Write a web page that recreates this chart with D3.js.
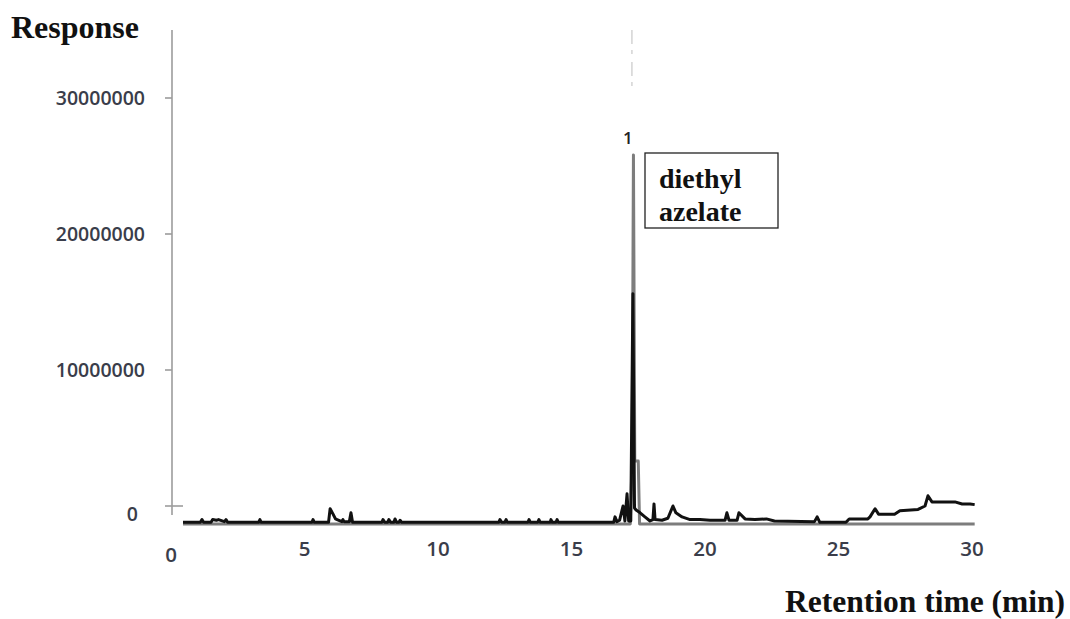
<!DOCTYPE html>
<html>
<head>
<meta charset="utf-8">
<script src="https://cdn.jsdelivr.net/npm/d3@7"></script>
<style>
  html, body { margin: 0; padding: 0; background: #fff; }
  svg { display: block; }
</style>
</head>
<body>
<svg id="chart" width="1070" height="619"></svg>
<script>
// ---- data ----
const yTicks = [0, 10000000, 20000000, 30000000];
const xTicks = [0, 5, 10, 15, 20, 25, 30];
// sample trace (black): retention time (min), response (millions)
const sampleTime = [0.45, 1.1, 1.16, 1.22, 1.5, 1.56, 1.7, 1.78, 2.0, 2.06, 2.12, 3.28, 3.33, 3.38, 5.28, 5.32, 5.37,
  5.9, 5.96, 6.07, 6.16, 6.22, 6.4, 6.44, 6.48, 6.68, 6.74, 6.8, 7.9, 7.94, 8.0, 8.12, 8.16, 8.22, 8.35, 8.39, 8.45, 8.54, 8.58, 8.64,
  12.28, 12.32, 12.38, 12.5, 12.55, 12.6, 13.37, 13.41, 13.46, 13.74, 13.78, 13.83, 14.2, 14.23, 14.28, 14.42, 14.46, 14.5,
  16.58, 16.63, 16.7, 16.8, 16.93, 17.0, 17.08, 17.14, 17.22, 17.3, 17.36, 17.42, 17.57, 17.75, 17.94, 18.05, 18.09, 18.13,
  18.39, 18.61, 18.8, 18.91, 19.14, 19.44, 19.81, 20.19, 20.75, 20.82, 20.9, 21.2, 21.27, 21.5, 21.87, 22.3, 22.6,
  24.1, 24.2, 24.3, 25.28, 25.4, 26.1, 26.18, 26.37, 26.5, 27.1, 27.3, 27.98, 28.24, 28.35, 28.5, 29.36, 29.63, 29.93, 30.1];
const sampleResp = [-1.2, -1.2, -1.0, -1.2, -1.2, -1.0, -1.05, -1.0, -1.15, -1.0, -1.2, -1.2, -1.0, -1.2, -1.2, -1.0, -1.2,
  -1.2, -0.2, -0.6, -0.95, -1.0, -1.15, -1.0, -1.15, -1.15, -0.5, -1.2, -1.2, -1.0, -1.2, -1.2, -1.0, -1.2, -1.2, -0.95, -1.2, -1.2, -1.05, -1.2,
  -1.2, -1.0, -1.2, -1.2, -1.0, -1.2, -1.2, -1.0, -1.2, -1.2, -1.0, -1.2, -1.2, -1.0, -1.2, -1.2, -1.0, -1.2,
  -1.2, -0.8, -1.15, -1.05, 0.0, -1.1, 0.9, -1.1, -1.1, 15.6, -0.15, -0.3, -0.5, -0.8, -1.1, -1.0, 0.15, -1.0,
  -1.05, -0.9, 0.0, -0.5, -0.8, -1.0, -1.0, -1.05, -1.05, -0.5, -1.05, -1.05, -0.5, -0.95, -1.0, -0.95, -1.1,
  -1.15, -0.8, -1.2, -1.2, -0.95, -0.95, -0.8, -0.2, -0.6, -0.6, -0.35, -0.25, 0.0, 0.75, 0.3, 0.3, 0.15, 0.15, 0.1];
// reference trace (grey)
const refTime = [0.45, 17.2, 17.27, 17.32, 17.37, 17.5, 17.55, 30.1];
const refResp = [-1.32, -1.32, 3.3, 25.8, 3.3, 3.3, -1.32, -1.32];
const peakLabel = "1";
const peakTime = 17.3;
const peakResp = 25.8;
const compoundName = ["diethyl", "azelate"];

// ---- layout ----
const svg = d3.select("#chart");
svg.append("rect").attr("width", 1070).attr("height", 619).attr("fill", "#fff");

const x = d3.scaleLinear().domain([0, 30]).range([171, 972]);
const y = d3.scaleLinear().domain([0, 35000000]).range([506, 30]);

const axisColor = "#9c9c9c";
const labelColor = "#3a3d4a";

// y axis line
svg.append("line")
  .attr("x1", 172).attr("x2", 172)
  .attr("y1", y(35000000)).attr("y2", 515)
  .attr("stroke", axisColor).attr("stroke-width", 1.6);

// y ticks
const yg = svg.append("g");
yTicks.forEach(v => {
  yg.append("line")
    .attr("x1", 165).attr("x2", v === 0 ? 183 : 172)
    .attr("y1", y(v)).attr("y2", y(v))
    .attr("stroke", axisColor).attr("stroke-width", 1.6);
  yg.append("text")
    .attr("x", v === 0 ? 138 : 145)
    .attr("y", v === 0 ? y(v) + 8 : y(v))
    .attr("dy", "0.35em")
    .attr("text-anchor", "end")
    .attr("font-family", "'Open Sans', sans-serif")
    .attr("font-weight", 600)
    .attr("font-size", 19.5)
    .attr("fill", labelColor)
    .text(d3.format("d")(v));
});

// x tick labels
const xg = svg.append("g");
xTicks.forEach(v => {
  xg.append("text")
    .attr("x", x(v))
    .attr("y", v === 0 ? 555 : 549)
    .attr("dy", "0.35em")
    .attr("text-anchor", "middle")
    .attr("font-family", "'Open Sans', sans-serif")
    .attr("font-weight", 600)
    .attr("font-size", 20.5)
    .attr("fill", labelColor)
    .text(v);
});

// traces
const line = d3.line()
  .x(d => x(d[0]))
  .y(d => y(d[1] * 1e6))
  .curve(d3.curveLinear);

const refData = refTime.map((t, i) => [t, refResp[i]]);
const sampleData = sampleTime.map((t, i) => [t, sampleResp[i]]);

// faint grey dashes above the peak
svg.append("line")
  .attr("x1", x(peakTime) - 1).attr("x2", x(peakTime) - 1)
  .attr("y1", y(35000000)).attr("y2", y(30800000))
  .attr("stroke", "#d4d4d4").attr("stroke-width", 1.5)
  .attr("stroke-dasharray", "14,6,4,8");

svg.append("path")
  .datum(refData)
  .attr("d", line)
  .attr("fill", "none")
  .attr("stroke", "#7d7d7d")
  .attr("stroke-width", 3)
  .attr("stroke-linejoin", "round");

svg.append("path")
  .datum(sampleData)
  .attr("d", line)
  .attr("fill", "none")
  .attr("stroke", "#111")
  .attr("stroke-width", 3)
  .attr("stroke-linejoin", "round");

// peak number
svg.append("text")
  .attr("x", x(peakTime) - 5)
  .attr("y", y(peakResp * 1e6) - 11)
  .attr("text-anchor", "middle")
  .attr("font-family", "'Open Sans', sans-serif")
  .attr("font-weight", 600)
  .attr("font-size", 17)
  .attr("fill", "#222")
  .text(peakLabel);

// compound annotation box
const bx = 645, by = 153;
svg.append("rect")
  .attr("x", bx).attr("y", by)
  .attr("width", 133).attr("height", 75)
  .attr("fill", "#fff")
  .attr("stroke", "#222").attr("stroke-width", 1.3);
compoundName.forEach((s, i) => {
  svg.append("text")
    .attr("x", bx + 14)
    .attr("y", by + 35 + i * 33)
    .attr("font-family", "'Liberation Serif', 'Times New Roman', serif")
    .attr("font-weight", "bold")
    .attr("font-size", 28)
    .attr("fill", "#111")
    .text(s);
});

// axis titles
svg.append("text")
  .attr("x", 11).attr("y", 38)
  .attr("font-family", "'Liberation Serif', 'Times New Roman', serif")
  .attr("font-weight", "bold")
  .attr("font-size", 32)
  .attr("fill", "#111")
  .text("Response");

svg.append("text")
  .attr("x", 1065).attr("y", 612)
  .attr("text-anchor", "end")
  .attr("font-family", "'Liberation Serif', 'Times New Roman', serif")
  .attr("font-weight", "bold")
  .attr("font-size", 31.5)
  .attr("fill", "#111")
  .text("Retention time (min)");
</script>
</body>
</html>
